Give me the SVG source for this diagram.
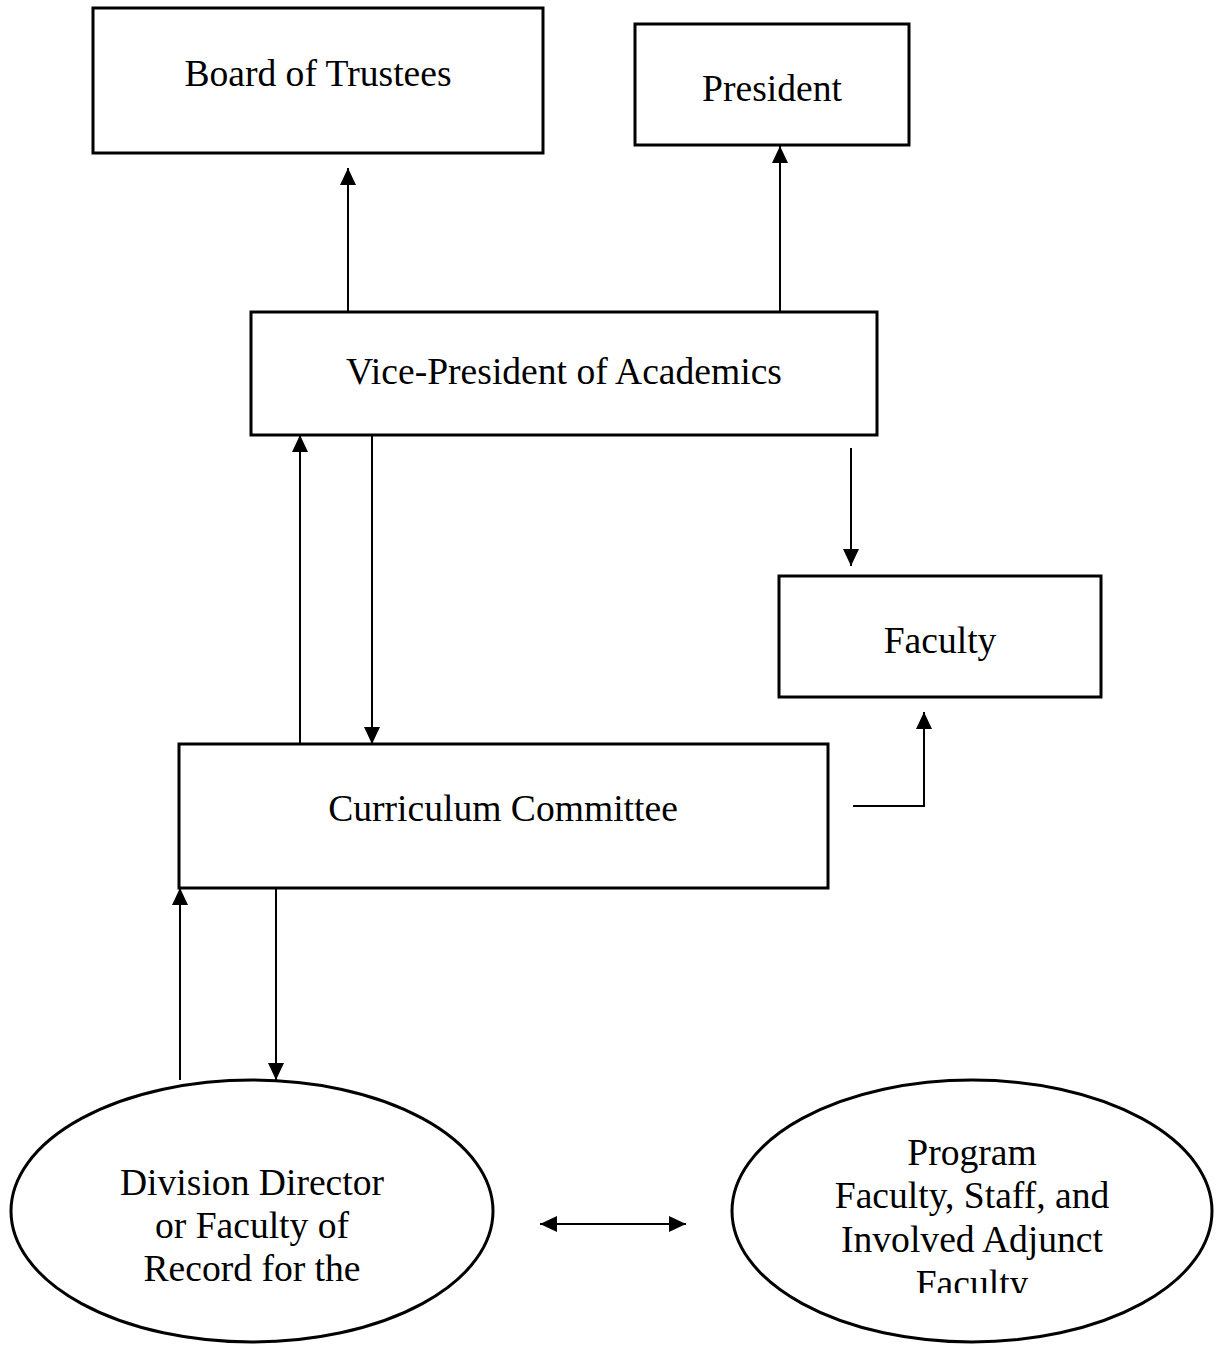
<svg xmlns="http://www.w3.org/2000/svg" width="1218" height="1345" viewBox="0 0 1218 1345">
<style>
.box{fill:#fff;stroke:#000;stroke-width:3}
.t{font-family:"Liberation Serif","Times New Roman",serif;font-size:37.6px;fill:#000;text-anchor:middle}
.c{fill:none;stroke:#000;stroke-width:2}
</style>
<defs>
<marker id="ah" markerUnits="userSpaceOnUse" markerWidth="17" markerHeight="17" viewBox="0 0 17 17" refX="17" refY="8.5" orient="auto-start-reverse">
<path d="M0,0.5 L17,8.5 L0,16.5 Z" fill="#000"/>
</marker>
<clipPath id="clipR"><rect x="700" y="1060" width="518" height="233"/></clipPath>
</defs>
<rect width="1218" height="1345" fill="#fff"/>
<g id="board"><rect class="box" x="93" y="8" width="450" height="145"/><text class="t" x="318" y="86">Board of Trustees</text></g>
<g id="president"><rect class="box" x="635" y="24" width="274" height="121"/><text class="t" x="772" y="101">President</text></g>
<g id="vp"><rect class="box" x="251" y="312" width="626" height="123"/><text class="t" x="564" y="384">Vice-President of Academics</text></g>
<g id="faculty"><rect class="box" x="779" y="576" width="322" height="121"/><text class="t" x="940" y="653">Faculty</text></g>
<g id="curriculum"><rect class="box" x="179" y="744" width="649" height="144"/><text class="t" x="503" y="821">Curriculum Committee</text></g>
<g id="division"><ellipse class="box" cx="252" cy="1211" rx="241" ry="131"/>
<text class="t" x="252" y="1195">Division Director</text>
<text class="t" x="252" y="1238">or Faculty of</text>
<text class="t" x="252" y="1281">Record for the</text></g>
<g id="program"><ellipse class="box" cx="972" cy="1211" rx="240" ry="131"/>
<g clip-path="url(#clipR)">
<text class="t" x="972" y="1165">Program</text>
<text class="t" x="972" y="1208">Faculty, Staff, and</text>
<text class="t" x="972" y="1252">Involved Adjunct</text>
<text class="t" x="972" y="1296">Faculty</text></g></g>
<g id="connectors">
<path class="c" d="M348,311 V168" marker-end="url(#ah)"/>
<path class="c" d="M780,311 V146" marker-end="url(#ah)"/>
<path class="c" d="M300,743 V435" marker-end="url(#ah)"/>
<path class="c" d="M372,436 V744" marker-end="url(#ah)"/>
<path class="c" d="M851,448 V566" marker-end="url(#ah)"/>
<path class="c" d="M853,806 H924 V712" marker-end="url(#ah)"/>
<path class="c" d="M180,1080 V888" marker-end="url(#ah)"/>
<path class="c" d="M276,889 V1080" marker-end="url(#ah)"/>
<path class="c" d="M540,1224 H686" marker-start="url(#ah)" marker-end="url(#ah)"/>
</g>
</svg>
